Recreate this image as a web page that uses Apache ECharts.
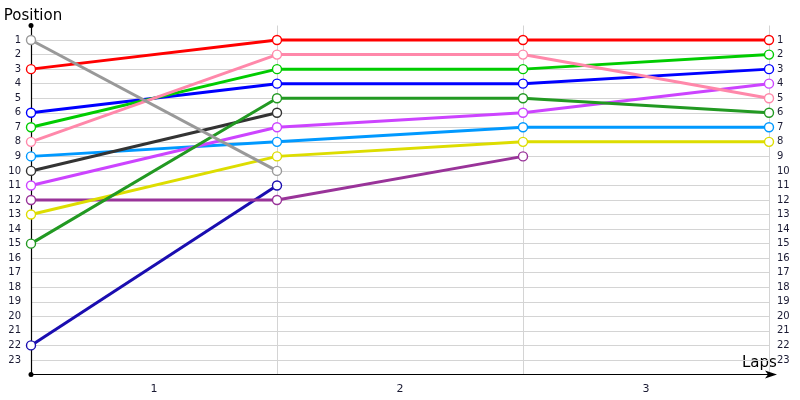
<!DOCTYPE html>
<html>
<head>
<meta charset="utf-8">
<script src="https://cdn.jsdelivr.net/npm/echarts@6/dist/echarts.min.js"></script>
<style>html,body{margin:0;padding:0;background:#fff}#chart{width:800px;height:400px}</style>
</head>
<body>
<div id="chart"></div>
<script>
// Laps (0 = start grid)
var laps = [0, 1, 2, 3];
var lapLabels = ['1', '2', '3'];
var positionTicks = [1,2,3,4,5,6,7,8,9,10,11,12,13,14,15,16,17,18,19,20,21,22,23];

// Positions per driver per lap (null = retired)
var driverRed       = [3, 1, 1, 1];
var driverPink      = [8, 2, 2, 5];
var driverGreen     = [7, 3, 3, 2];
var driverBlue      = [6, 4, 4, 3];
var driverDarkGreen = [15, 5, 5, 6];
var driverBlack     = [10, 6, null, null];
var driverViolet    = [11, 7, 6, 4];
var driverLightBlue = [9, 8, 7, 7];
var driverYellow    = [13, 9, 8, 8];
var driverGray      = [1, 10, null, null];
var driverNavy      = [22, 11, null, null];
var driverPurple    = [12, 12, 9, null];

var seriesDefs = [
  {name: 'Navy', data: driverNavy, color: '#1a0db0'},
  {name: 'Purple', data: driverPurple, color: '#993399'},
  {name: 'Yellow', data: driverYellow, color: '#dddd00'},
  {name: 'LightBlue', data: driverLightBlue, color: '#0099ff'},
  {name: 'Violet', data: driverViolet, color: '#cc44ff'},
  {name: 'Black', data: driverBlack, color: '#333333'},
  {name: 'DarkGreen', data: driverDarkGreen, color: '#229922'},
  {name: 'Blue', data: driverBlue, color: '#0000ff'},
  {name: 'Green', data: driverGreen, color: '#00cc00'},
  {name: 'Pink', data: driverPink, color: '#ff88aa'},
  {name: 'Red', data: driverRed, color: '#ff0000'},
  {name: 'Gray', data: driverGray, color: '#999999'}
];

var splitColors = [];
for (var i = 0; i <= 24; i++) splitColors.push(i === 0 || i === 24 ? 'rgba(0,0,0,0)' : '#d4d4d4');

var series = seriesDefs.map(function (d) {
  var pts = [];
  d.data.forEach(function (v, i) { if (v !== null) pts.push([laps[i], v]); });
  return {
    name: d.name, type: 'line', xAxisIndex: 0, yAxisIndex: 0,
    data: pts, symbol: 'circle', symbolSize: 9, showSymbol: true,
    lineStyle: {color: d.color, width: 3},
    itemStyle: {color: '#ffffff', borderColor: d.color, borderWidth: 1.4},
    emphasis: {disabled: true}, animation: false
  };
});

var labelFont = {color: '#1a1a33', fontSize: 10, fontFamily: 'DejaVu Sans'};

var option = {
  animation: false,
  grid: {left: 31, right: 31, top: 25.5, bottom: 25.5, containLabel: false, outerBoundsMode: 'none'},
  graphic: [{
    type: 'text', left: 742, top: 356, silent: true,
    style: {text: 'Laps', fontSize: 15, fontFamily: 'DejaVu Sans', fill: '#000'}
  }],
  xAxis: [{
    type: 'value', min: 0, max: 3, interval: 1, position: 'bottom',
    axisLine: {show: true, onZero: false, lineStyle: {color: '#000', width: 1.2}, symbol: ['none', 'arrow'], symbolSize: [6, 12], symbolOffset: [0, 8]},
    axisTick: {show: false}, axisLabel: {show: false},
    splitLine: {show: true, lineStyle: {color: '#d4d4d4', width: 1}}
  }, {
    type: 'category', data: lapLabels, position: 'bottom', boundaryGap: true,
    axisLine: {show: false, onZero: false}, axisTick: {show: false}, splitLine: {show: false},
    axisLabel: {show: true, margin: 9, fontSize: 11, color: '#1a1a33', fontFamily: 'DejaVu Sans'}
  }],
  yAxis: [{
    type: 'value', min: 0, max: 24, interval: 1, inverse: true,
    axisLine: {show: true, onZero: false, lineStyle: {color: '#000', width: 1.2}, symbol: ['circle', 'circle'], symbolSize: [5, 5]},
    axisTick: {show: false},
    axisLabel: Object.assign({margin: 10, formatter: function (v) { return positionTicks.indexOf(v) >= 0 ? String(v) : ''; }}, labelFont),
    splitLine: {show: true, lineStyle: {color: splitColors, width: 1}},
    name: 'Position', nameLocation: 'start', nameGap: 2,
    nameTextStyle: {fontSize: 15, fontFamily: 'DejaVu Sans', color: '#000', align: 'center', padding: [0, 0, 0, 4]}
  }, {
    type: 'value', min: 0, max: 24, interval: 1, inverse: true, position: 'right',
    axisLine: {show: false, onZero: false}, axisTick: {show: false}, splitLine: {show: false},
    axisLabel: Object.assign({margin: 8, formatter: function (v) { return positionTicks.indexOf(v) >= 0 ? String(v) : ''; }}, labelFont)
  }],
  series: series
};

var chart = echarts.init(document.getElementById('chart'), null, {renderer: 'canvas'});
chart.setOption(option);
</script>
</body>
</html>
